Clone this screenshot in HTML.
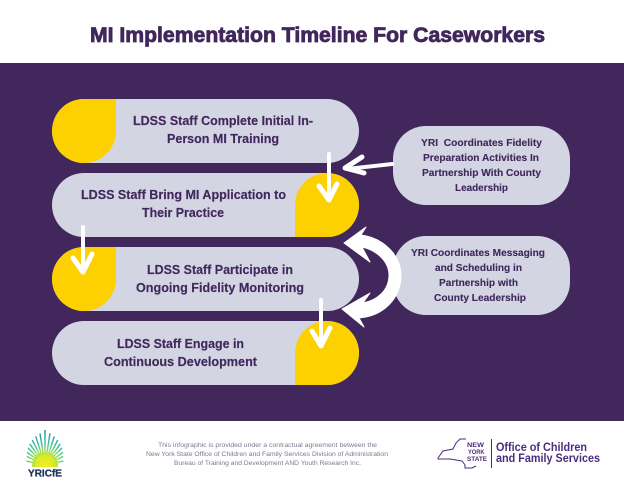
<!DOCTYPE html>
<html><head><meta charset="utf-8"><style>
html,body{margin:0;padding:0;background:#fff;width:624px;height:482px;overflow:hidden}
svg{display:block}
text{font-family:"Liberation Sans",sans-serif}
.m{font-weight:bold;font-size:12.5px;fill:#41275b;stroke:#41275b;stroke-width:.15}
.s{font-weight:bold;font-size:10.5px;fill:#41275b;stroke:#41275b;stroke-width:.12}
.f{font-size:6.6px;fill:#7d7990}
</style></head><body>
<svg width="624" height="482" viewBox="0 0 624 482" xmlns="http://www.w3.org/2000/svg">
<defs>
<linearGradient id="ray" gradientUnits="userSpaceOnUse" x1="0" y1="431" x2="0" y2="453">
<stop offset="0" stop-color="#1f8fa8"/><stop offset=".55" stop-color="#35c0a0"/><stop offset="1" stop-color="#b5e23c"/></linearGradient>
<radialGradient id="sun"><stop offset="0" stop-color="#f2ee20"/><stop offset=".7" stop-color="#dcea24"/><stop offset="1" stop-color="#a8e24a"/></radialGradient>
</defs>
<rect width="624" height="482" fill="#fff"/>
<text x="90" y="42" font-size="21" font-weight="bold" fill="#41275b" stroke="#41275b" stroke-width=".8" textLength="455" lengthAdjust="spacingAndGlyphs">MI Implementation Timeline For Caseworkers</text>
<rect x="0" y="63" width="624" height="358" fill="#41275b"/>

<rect x="52" y="99" width="307" height="64" rx="32" fill="#d3d5e3"/>
<rect x="52" y="173" width="307" height="64" rx="32" fill="#d3d5e3"/>
<rect x="52" y="247" width="307" height="64" rx="32" fill="#d3d5e3"/>
<rect x="52" y="321" width="307" height="64" rx="32" fill="#d3d5e3"/>

<path d="M84,99H116V131A32,32 0 0 1 84,163A32,32 0 0 1 84,99Z" fill="#fdd000"/>
<path d="M84,247H116V279A32,32 0 0 1 84,311A32,32 0 0 1 84,247Z" fill="#fdd000"/>
<path d="M327,173A32,32 0 0 1 327,237H295V205A32,32 0 0 1 327,173Z" fill="#fdd000"/>
<path d="M327,321A32,32 0 0 1 327,385H295V353A32,32 0 0 1 327,321Z" fill="#fdd000"/>

<rect x="393" y="126" width="177" height="79" rx="33" fill="#d3d5e3"/>
<rect x="393" y="236" width="177" height="79" rx="33" fill="#d3d5e3"/>

<text class="m" x="133" y="125" textLength="180" lengthAdjust="spacingAndGlyphs">LDSS Staff Complete Initial In-</text>
<text class="m" x="167" y="143" textLength="112" lengthAdjust="spacingAndGlyphs">Person MI Training</text>
<text class="m" x="81" y="199" textLength="205" lengthAdjust="spacingAndGlyphs">LDSS Staff Bring MI Application to</text>
<text class="m" x="142" y="217" textLength="82" lengthAdjust="spacingAndGlyphs">Their Practice</text>
<text class="m" x="147" y="274" textLength="146" lengthAdjust="spacingAndGlyphs">LDSS Staff Participate in</text>
<text class="m" x="136" y="292" textLength="168" lengthAdjust="spacingAndGlyphs">Ongoing Fidelity Monitoring</text>
<text class="m" x="117" y="348" textLength="127" lengthAdjust="spacingAndGlyphs">LDSS Staff Engage in</text>
<text class="m" x="104" y="366" textLength="153" lengthAdjust="spacingAndGlyphs">Continuous Development</text>

<text class="s" x="421" y="146" textLength="121" lengthAdjust="spacingAndGlyphs" xml:space="preserve">YRI  Coordinates Fidelity</text>
<text class="s" x="423" y="161" textLength="116" lengthAdjust="spacingAndGlyphs">Preparation Activities In</text>
<text class="s" x="422" y="176" textLength="119" lengthAdjust="spacingAndGlyphs">Partnership With County</text>
<text class="s" x="455" y="191" textLength="53" lengthAdjust="spacingAndGlyphs">Leadership</text>
<text class="s" x="411" y="256" textLength="134" lengthAdjust="spacingAndGlyphs">YRI Coordinates Messaging</text>
<text class="s" x="435" y="271" textLength="87" lengthAdjust="spacingAndGlyphs">and Scheduling in</text>
<text class="s" x="439" y="286" textLength="79" lengthAdjust="spacingAndGlyphs">Partnership with</text>
<text class="s" x="434" y="301" textLength="92" lengthAdjust="spacingAndGlyphs">County Leadership</text>

<g fill="none" stroke="#fff" stroke-width="4" stroke-linecap="round" stroke-linejoin="round">
<path d="M329,154V199"/><path d="M319,186L329,200L337,184" stroke-width="5"/>
<path d="M83,227V272"/><path d="M73,258L83,272L92,254" stroke-width="5"/>
<path d="M321,300V345"/><path d="M312,331L321,346L330,328" stroke-width="5"/>
<path d="M392,164L347,169"/><path d="M362,157L345,168L364,173" stroke-width="5"/>
</g>
<path d="M344,243L366,227L361,235C384,238 401,256 401,275C401,298 384,316 359,318L364,327L342,309L370,293L363,303C378,300 389,290 389,275C389,261 376,250 362,247L370,262Z" fill="#fff" stroke="#fff" stroke-width="1" stroke-linejoin="round"/>

<g stroke="url(#ray)" stroke-width="1.4">
<line x1="45" y1="452" x2="45" y2="430" transform="rotate(0 45 465)"/>
<line x1="45" y1="452" x2="45" y2="433" transform="rotate(-9 45 465)"/>
<line x1="45" y1="452" x2="45" y2="433" transform="rotate(9 45 465)"/>
<line x1="45" y1="452" x2="45" y2="435" transform="rotate(-18 45 465)"/>
<line x1="45" y1="452" x2="45" y2="435" transform="rotate(18 45 465)"/>
<line x1="45" y1="452" x2="45" y2="437" transform="rotate(-27 45 465)"/>
<line x1="45" y1="452" x2="45" y2="437" transform="rotate(27 45 465)"/>
<line x1="45" y1="452" x2="45" y2="439" transform="rotate(-36 45 465)"/>
<line x1="45" y1="452" x2="45" y2="439" transform="rotate(36 45 465)"/>
<line x1="45" y1="452" x2="45" y2="441" transform="rotate(-45 45 465)"/>
<line x1="45" y1="452" x2="45" y2="441" transform="rotate(45 45 465)"/>
<line x1="45" y1="452" x2="45" y2="443" transform="rotate(-55 45 465)"/>
<line x1="45" y1="452" x2="45" y2="443" transform="rotate(55 45 465)"/>
<line x1="45" y1="452" x2="45" y2="445" transform="rotate(-65 45 465)"/>
<line x1="45" y1="452" x2="45" y2="445" transform="rotate(65 45 465)"/>
<line x1="45" y1="452" x2="45" y2="446" transform="rotate(-78 45 465)"/>
<line x1="45" y1="452" x2="45" y2="446" transform="rotate(78 45 465)"/>
</g>
<circle cx="45" cy="465" r="13" fill="url(#sun)"/>
<rect x="24" y="467" width="44" height="12" fill="#fff"/>
<text x="28" y="476.5" font-size="10.5" font-weight="bold" fill="#1d3557" stroke="#1d3557" stroke-width=".3" textLength="34" lengthAdjust="spacingAndGlyphs">YRICfE</text>

<text class="f" x="158" y="447" textLength="219" lengthAdjust="spacingAndGlyphs">This infographic is provided under a contractual agreement between the</text>
<text class="f" x="146" y="456" textLength="242" lengthAdjust="spacingAndGlyphs">New York State Office of Children and Family Services Division of Administration</text>
<text class="f" x="174" y="465" textLength="187" lengthAdjust="spacingAndGlyphs">Bureau of Training and Development AND Youth Research Inc.</text>

<path d="M466,439H460L456,443L453,449L443,451L438,458V459H450L462,461L465,465L465,468H472L476,466" fill="none" stroke="#4b2c7f" stroke-width="1"/>
<text x="467" y="447" font-size="6.5" font-weight="bold" fill="#4b2c7f" textLength="17" lengthAdjust="spacingAndGlyphs">NEW</text>
<text x="468" y="454" font-size="6.5" font-weight="bold" fill="#4b2c7f" textLength="16.5" lengthAdjust="spacingAndGlyphs">YORK</text>
<text x="467" y="461" font-size="6.5" font-weight="bold" fill="#4b2c7f" textLength="20" lengthAdjust="spacingAndGlyphs">STATE</text>
<rect x="491" y="439" width="1" height="29" fill="#4b2c7f"/>
<text x="496" y="451" font-size="12" font-weight="bold" fill="#4b2c7f" textLength="91" lengthAdjust="spacingAndGlyphs">Office of Children</text>
<text x="496" y="462" font-size="12" font-weight="bold" fill="#4b2c7f" textLength="104" lengthAdjust="spacingAndGlyphs">and Family Services</text>
</svg>
</body></html>
